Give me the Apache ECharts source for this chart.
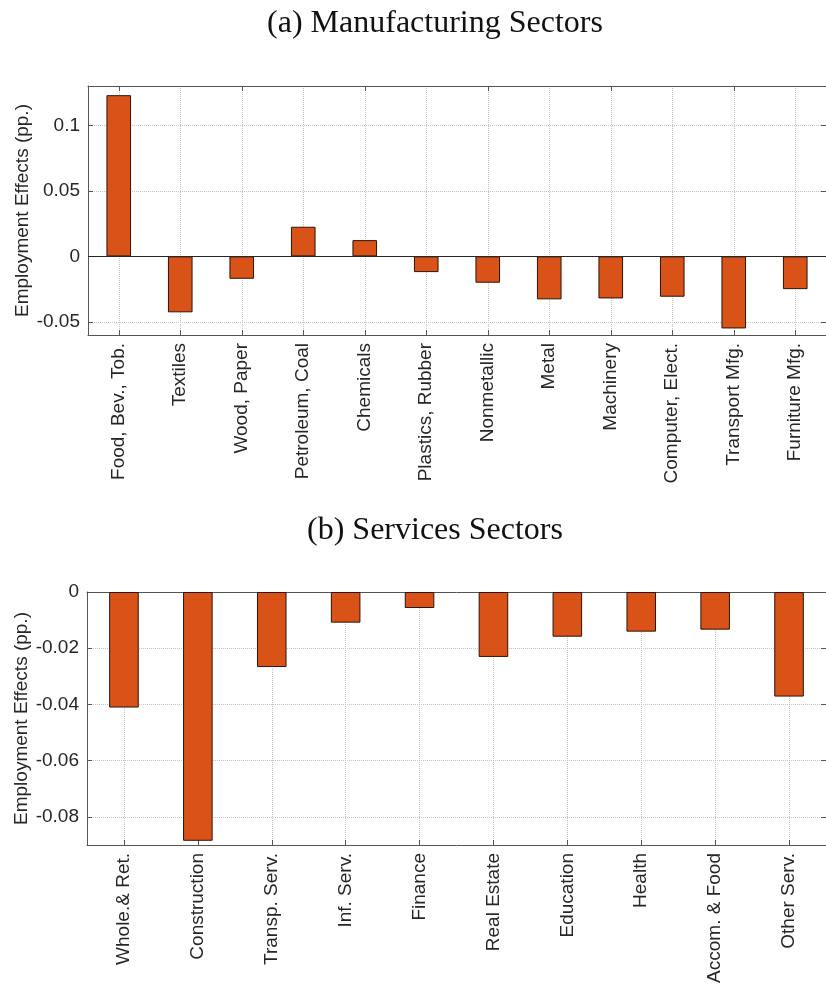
<!DOCTYPE html>
<html>
<head>
<meta charset="utf-8">
<script src="https://cdn.jsdelivr.net/npm/echarts@6/dist/echarts.min.js"></script>
<style>
  html, body { margin: 0; padding: 0; background: #fff; }
  #main { width: 826px; height: 997px; }
</style>
</head>
<body>
<div id="main"></div>
<script>
// manufacturing panel
var mfgSectors = ['Food, Bev., Tob.', 'Textiles', 'Wood, Paper', 'Petroleum, Coal', 'Chemicals',
  'Plastics, Rubber', 'Nonmetallic', 'Metal', 'Machinery', 'Computer, Elect.', 'Transport Mfg.', 'Furniture Mfg.'];
var mfgEffects = [0.123, -0.0427, -0.0171, 0.0226, 0.0124, -0.012, -0.0201, -0.0328, -0.0321, -0.0308, -0.055, -0.025];

// services panel
var servSectors = ['Whole.& Ret.', 'Construction', 'Transp. Serv.', 'Inf. Serv.', 'Finance',
  'Real Estate', 'Education', 'Health', 'Accom. & Food', 'Other Serv.'];
var servEffects = [-0.0411, -0.0885, -0.0267, -0.0109, -0.0057, -0.0231, -0.0159, -0.0141, -0.0134, -0.0372];

var panelTitles = ['(a) Manufacturing Sectors', '(b) Services Sectors'];
var yName = 'Employment Effects (pp.)';

var dom = document.getElementById('main');
var chart = echarts.init(dom, null, { renderer: 'canvas' });

var axisColor = '#555';
var textColor = '#262626';
var gridLineStyle = { color: '#c4c4c4', type: 'dotted', width: 1 };
var labelFont = 'Liberation Sans, Helvetica, Arial, sans-serif';
var titleFont = 'Liberation Serif, DejaVu Serif, serif';

function fmt(v) {
  return String(Math.round(v * 1000) / 1000);
}

function catAxis(grid, cats, top) {
  return {
    type: 'category',
    gridIndex: grid,
    position: top ? 'top' : 'bottom',
    data: cats,
    boundaryGap: true,
    axisLine: { show: true, onZero: false, lineStyle: { color: axisColor } },
    axisTick: { show: true, inside: true, alignWithLabel: true, length: 5, lineStyle: { color: axisColor } },
    axisLabel: top ? { show: false } : {
      show: true, rotate: 90, interval: 0, margin: 8,
      color: textColor, fontSize: 19, fontFamily: labelFont
    },
    splitLine: top ? { show: false } : { show: true, alignWithLabel: true, lineStyle: gridLineStyle }
  };
}

function valAxis(grid, min, max, split, right, showMax) {
  return {
    type: 'value',
    gridIndex: grid,
    position: right ? 'right' : 'left',
    min: min,
    max: max,
    splitNumber: split,
    name: right ? '' : yName,
    nameLocation: 'middle',
    nameGap: 56,
    nameMoveOverlap: false,
    nameTextStyle: { color: textColor, fontSize: 19, fontFamily: labelFont },
    axisLine: { show: true, lineStyle: { color: axisColor } },
    axisTick: { show: true, inside: true, length: 5, lineStyle: { color: axisColor } },
    axisLabel: right ? { show: false } : {
      show: true, color: textColor, fontSize: 19, fontFamily: labelFont,
      showMinLabel: false, showMaxLabel: showMax, formatter: fmt
    },
    splitLine: right ? { show: false } : { show: true, lineStyle: gridLineStyle }
  };
}

var barStyle = { color: '#D95319', borderColor: '#2a1408', borderWidth: 1 };

var option = {
  animation: false,
  backgroundColor: '#fff',
  title: [
    {
      text: panelTitles[0], left: 430, top: 3, textAlign: 'center',
      textStyle: { fontFamily: titleFont, fontWeight: 'normal', fontSize: 32, color: '#111' }
    },
    {
      text: panelTitles[1], left: 430, top: 510, textAlign: 'center',
      textStyle: { fontFamily: titleFont, fontWeight: 'normal', fontSize: 32, color: '#111' }
    }
  ],
  grid: [
    { left: 88, top: 86, width: 740, height: 249, show: false },
    { left: 87, top: 592, width: 751, height: 253, show: false }
  ],
  xAxis: [
    catAxis(0, mfgSectors, false),
    catAxis(0, mfgSectors, true),
    catAxis(1, servSectors, false),
    catAxis(1, servSectors, true)
  ],
  yAxis: [
    valAxis(0, -0.06, 0.13, 4, false, false),
    valAxis(0, -0.06, 0.13, 4, true, false),
    valAxis(1, -0.09, 0, 5, false, true),
    valAxis(1, -0.09, 0, 5, true, true)
  ],
  series: [
    {
      name: 'Manufacturing',
      type: 'bar',
      xAxisIndex: 0,
      yAxisIndex: 0,
      barWidth: '40%',
      data: mfgEffects,
      itemStyle: barStyle,
      markLine: {
        silent: true,
        symbol: 'none',
        label: { show: false },
        lineStyle: { color: '#262626', type: 'solid', width: 1 },
        data: [{ yAxis: 0 }]
      }
    },
    {
      name: 'Services',
      type: 'bar',
      xAxisIndex: 2,
      yAxisIndex: 2,
      barWidth: '40%',
      data: servEffects,
      itemStyle: barStyle
    }
  ]
};

chart.setOption(option);
window.addEventListener('resize', chart.resize);
</script>
</body>
</html>
